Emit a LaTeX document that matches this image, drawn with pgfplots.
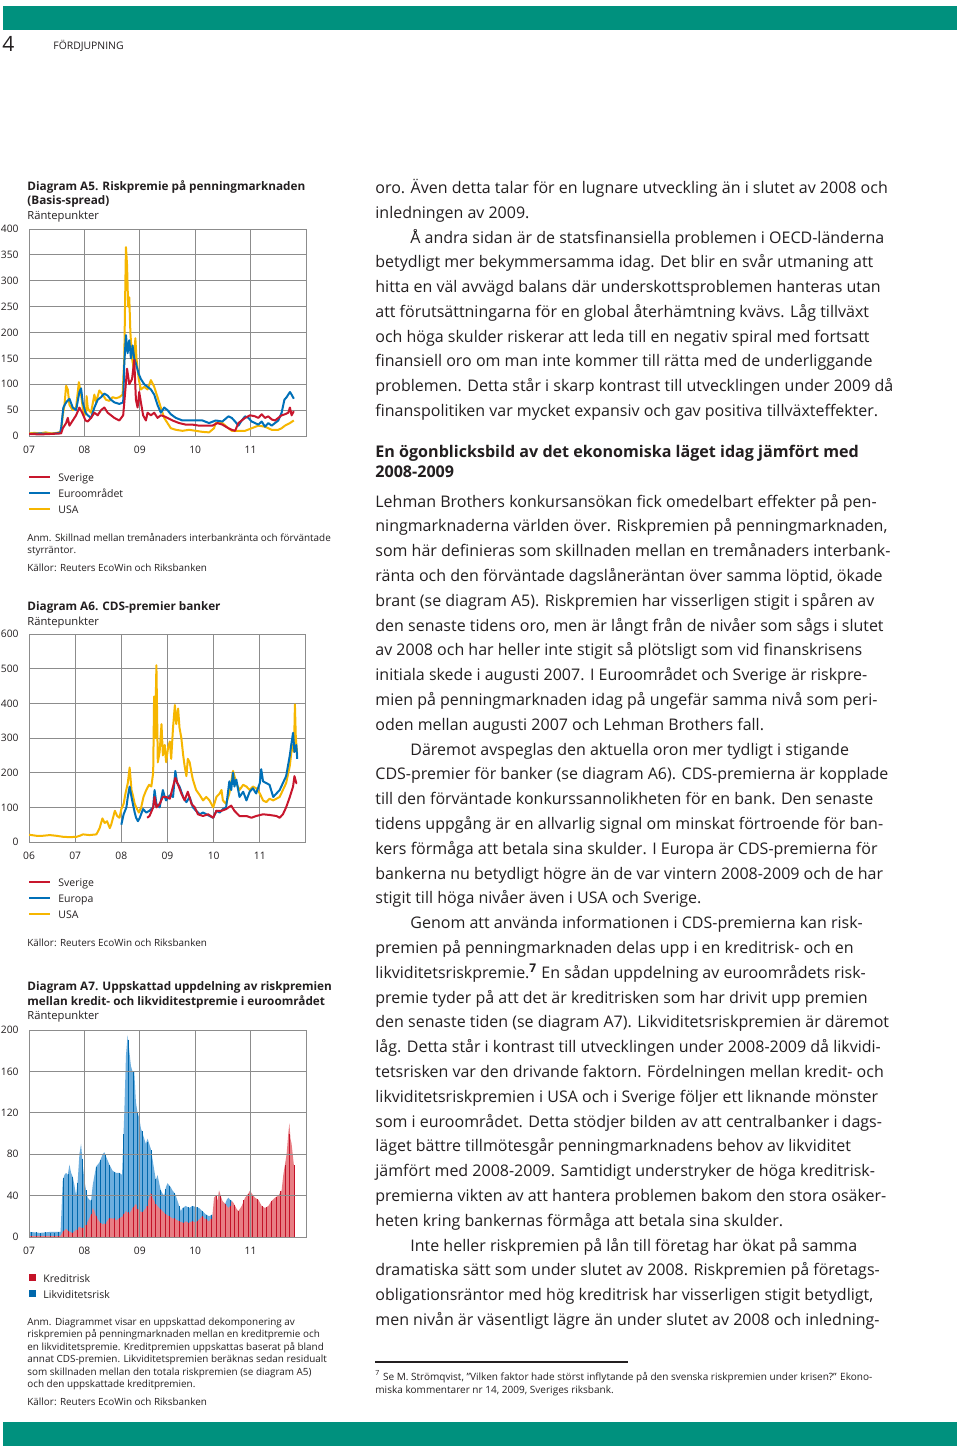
\documentclass[border=0pt]{standalone}
\usepackage{fontspec}
\setmainfont{Open Sans}
\usepackage{pgfplots}
\pgfplotsset{compat=1.18}
\usepackage{pgfplotstable}

\definecolor{rbgreen}{RGB}{0,145,126}
\definecolor{sred}{RGB}{200,22,45}
\definecolor{sblue}{RGB}{0,112,184}
\definecolor{syel}{RGB}{246,182,0}
\definecolor{gridc}{RGB}{140,140,140}
\definecolor{lred}{RGB}{232,126,132}
\definecolor{lblue}{RGB}{108,174,222}
\definecolor{dred}{RGB}{196,18,40}
\definecolor{dblue}{RGB}{0,104,172}
\definecolor{txt}{RGB}{35,31,32}

\newcommand\bodyf{\fontsize{8}{9.6}\selectfont}
\newcommand\headf{\fontsize{8.05}{9.6}\selectfont\bfseries}
\newcommand\titf{\fontsize{5.88}{7}\selectfont\bfseries}
\newcommand\subf{\fontsize{5.6}{6.7}\selectfont}
\newcommand\legf{\fontsize{5.25}{6.2}\selectfont}
\newcommand\notef{\fontsize{4.95}{5.9}\selectfont}
\newcommand\tickf{\fontsize{5.15}{6}\selectfont}
\newcommand\footf{\fontsize{5.02}{6}\selectfont}

\newcommand\al[3][375]{\node[anchor=base west,font=\bodyf] at (#1,{193.5+24.75*#2}) {#3};}
\newcommand\bl[3][375]{\node[anchor=base west,font=\bodyf] at (#1,{507+24.8*#2}) {#3};}
\newcommand\tl[3]{\node[anchor=base west,font=#1] at (27,#2) {#3};}

\pgfplotstableread{
x tot kred
2007.04 5 1
2007.13 5 1
2007.21 4 1
2007.29 5 1
2007.38 4 1
2007.46 4 1
2007.54 5 1
2007.63 57 6
2007.71 61 6
2007.79 58 4
2007.88 52 7
2007.96 75 9
2008.04 45 12
2008.13 36 22
2008.21 68 20
2008.29 74 14
2008.38 79 13
2008.46 70 18
2008.54 63 18
2008.63 62 18
2008.71 100 22
2008.79 190 24
2008.88 160 29
2008.96 120 27
2009.04 102 24
2009.13 92 30
2009.21 84 42
2009.29 56 32
2009.38 45 27
2009.46 46 22
2009.54 49 20
2009.63 43 18
2009.71 30 15
2009.79 28 14
2009.88 29 14
2009.96 30 15
2010.04 29 15
2010.13 25 20
2010.21 21 17
2010.29 21 17
2010.38 40 40
2010.46 40 40
2010.54 32 32
2010.63 36 30
2010.71 31 31
2010.79 25 25
2010.88 36 36
2010.96 42 42
2011.04 41 41
2011.13 37 37
2011.21 30 30
2011.29 29 29
2011.38 35 35
2011.46 39 39
2011.54 44 44
2011.63 70 70
2011.71 100 100
2011.79 70 70
}\stripes

\pgfplotsset{rbaxis/.style={
  scale only axis, width=138.5pt, anchor=south west,
  axis line style={draw=gridc, line width=0.5pt},
  grid=major, major grid style={draw=gridc, line width=0.5pt},
  major tick length=0pt,
  ticklabel style={font=\tickf, inner sep=0pt, text=txt},
  xticklabel style={anchor=north, yshift=-5pt},
  yticklabel style={anchor=east, xshift=-5pt},
  /pgf/number format/assume math mode=true,
  every axis plot/.append style={line join=round},
}}

\begin{document}
\begin{tikzpicture}[x=0.5pt,y=-0.5pt, every node/.style={inner sep=0pt, text=txt}]
\fill[white] (0,0) rectangle (960,1450);
\path[use as bounding box] (0,0) rectangle (960,1450);
% header / footer
\fill[rbgreen] (3,6) rectangle (957,30);
\fill[rbgreen] (3,1422) rectangle (957,1446);
\node[anchor=base west,font=\fontsize{10.5}{12}\selectfont] at (2,52) {4};
\node[anchor=base west,font=\fontsize{5.2}{6}\selectfont] at (53,49.5) {FÖRDJUPNING};

% ---------- A5 ----------
\tl{\titf}{190}{Diagram A5. Riskpremie på penningmarknaden}
\tl{\titf}{204}{(Basis-spread)}
\tl{\subf}{219}{Räntepunkter}
\begin{axis}[rbaxis, at={(14.5pt,-218pt)}, height=103.5pt,
  xmin=2007, xmax=2012, xtick={2007,2008,2009,2010,2011}, xticklabels={07,08,09,10,11},
  ymin=0, ymax=400, ytick={0,50,...,400}]
\addplot[syel, line width=1pt] coordinates {
(2007.00,5) (2007.10,6) (2007.20,5) (2007.30,7) (2007.40,5) (2007.50,6) (2007.56,8)
(2007.58,10) (2007.61,40) (2007.64,60) (2007.67,97) (2007.70,90) (2007.73,60) (2007.76,55) (2007.79,50) (2007.85,55) (2007.90,104) (2007.94,80) (2007.97,55) (2008.00,40) (2008.03,45) (2008.04,77) (2008.06,55) (2008.08,50) (2008.12,45) (2008.18,80) (2008.21,65) (2008.27,88) (2008.33,80) (2008.39,70) (2008.45,68) (2008.51,75) (2008.57,73) (2008.63,75) (2008.69,80) (2008.72,150) (2008.74,300) (2008.75,365) (2008.77,330) (2008.79,250) (2008.81,268) (2008.83,200) (2008.86,150) (2008.89,130) (2008.92,189) (2008.94,150) (2008.98,110) (2009.02,90) (2009.08,95) (2009.14,90) (2009.20,108) (2009.26,95) (2009.32,75) (2009.38,55) (2009.44,35) (2009.50,25) (2009.56,15) (2009.65,12) (2009.77,10) (2009.89,12) (2010.01,10) (2010.13,8) (2010.25,7) (2010.34,15) (2010.37,25) (2010.49,25) (2010.60,15) (2010.66,10) (2010.78,10) (2010.90,10) (2011.02,15) (2011.14,20) (2011.26,18) (2011.38,12) (2011.50,12) (2011.56,15) (2011.62,20) (2011.71,25) (2011.78,30)};
\addplot[sblue, line width=1pt] coordinates {
(2007.00,4) (2007.20,5) (2007.40,4) (2007.56,6) (2007.58,15) (2007.62,55) (2007.67,65) (2007.73,72) (2007.79,55) (2007.85,50) (2007.91,85) (2007.94,92) (2007.97,65) (2008.02,45) (2008.06,40) (2008.12,35) (2008.18,55) (2008.24,70) (2008.30,75) (2008.36,82) (2008.42,78) (2008.48,70) (2008.54,65) (2008.63,62) (2008.70,65) (2008.72,140) (2008.75,195) (2008.78,160) (2008.81,185) (2008.84,150) (2008.87,175) (2008.90,150) (2008.93,140) (2008.98,120) (2009.02,110) (2009.08,100) (2009.14,95) (2009.20,90) (2009.26,80) (2009.32,60) (2009.38,45) (2009.44,55) (2009.50,50) (2009.56,42) (2009.65,35) (2009.77,30) (2009.89,30) (2010.01,30) (2010.13,30) (2010.25,25) (2010.37,30) (2010.49,28) (2010.60,38) (2010.66,35) (2010.72,28) (2010.78,20) (2010.84,30) (2010.90,38) (2010.96,35) (2011.02,28) (2011.08,25) (2011.14,22) (2011.20,28) (2011.26,18) (2011.32,25) (2011.38,20) (2011.44,25) (2011.50,30) (2011.56,45) (2011.61,70) (2011.65,75) (2011.71,85) (2011.74,80) (2011.78,72)};
\addplot[sred, line width=1pt] coordinates {
(2007.00,4) (2007.20,3) (2007.40,4) (2007.58,5) (2007.61,15) (2007.67,25) (2007.70,35) (2007.73,20) (2007.79,30) (2007.85,40) (2007.91,55) (2007.96,45) (2008.02,30) (2008.06,28) (2008.12,35) (2008.18,45) (2008.24,40) (2008.30,50) (2008.36,55) (2008.42,45) (2008.48,40) (2008.54,35) (2008.63,30) (2008.70,40) (2008.74,90) (2008.77,130) (2008.81,100) (2008.86,110) (2008.90,147) (2008.93,70) (2008.96,55) (2008.99,85) (2009.02,65) (2009.06,40) (2009.11,30) (2009.14,45) (2009.20,40) (2009.26,45) (2009.32,35) (2009.38,40) (2009.44,38) (2009.50,35) (2009.59,30) (2009.71,25) (2009.83,22) (2009.95,22) (2010.07,20) (2010.19,20) (2010.31,20) (2010.40,25) (2010.49,22) (2010.60,15) (2010.66,12) (2010.72,10) (2010.78,25) (2010.90,35) (2010.99,40) (2011.08,38) (2011.14,35) (2011.20,42) (2011.26,35) (2011.32,38) (2011.38,32) (2011.44,30) (2011.50,35) (2011.56,40) (2011.62,42) (2011.68,45) (2011.71,55) (2011.74,40) (2011.78,48)};
\end{axis}
\draw[sred, line width=1pt] (29,477) -- (50,477);
\draw[sblue, line width=1pt] (29,493) -- (50,493);
\draw[syel, line width=1pt] (29,509) -- (50,509);
\node[anchor=base west,font=\legf] at (58,481) {Sverige};
\node[anchor=base west,font=\legf] at (58,497) {Euroområdet};
\node[anchor=base west,font=\legf] at (58,513) {USA};
\tl{\notef}{541.5}{Anm. Skillnad mellan tremånaders interbankränta och förväntade}
\tl{\notef}{553.5}{styrräntor.}
\tl{\notef}{571.5}{Källor: Reuters EcoWin och Riksbanken}

% ---------- A6 ----------
\tl{\titf}{610}{Diagram A6. CDS-premier banker}
\tl{\subf}{625}{Räntepunkter}
\begin{axis}[rbaxis, at={(14.5pt,-421pt)}, height=104pt,
  xmin=2006, xmax=2012, xtick={2006,2007,2008,2009,2010,2011}, xticklabels={06,07,08,09,10,11},
  ymin=0, ymax=600, ytick={0,100,...,600}]
\addplot[syel, line width=1pt] coordinates {
(2006.00,21) (2006.16,18) (2006.30,18) (2006.45,20) (2006.59,18) (2006.74,15) (2006.88,14) (2007.03,15) (2007.10,18) (2007.17,22) (2007.31,20) (2007.46,22) (2007.53,40) (2007.59,68) (2007.64,55) (2007.69,60) (2007.75,40) (2007.78,50) (2007.86,90) (2007.91,75) (2007.96,70) (2008.00,95) (2008.05,110) (2008.09,140) (2008.14,170) (2008.18,215) (2008.22,150) (2008.25,135) (2008.29,110) (2008.34,95) (2008.38,85) (2008.43,100) (2008.48,130) (2008.54,150) (2008.60,165) (2008.65,160) (2008.69,200) (2008.71,420) (2008.73,300) (2008.76,510) (2008.79,230) (2008.83,260) (2008.87,340) (2008.90,250) (2008.94,280) (2008.97,230) (2009.01,270) (2009.05,290) (2009.08,240) (2009.12,330) (2009.16,395) (2009.19,340) (2009.23,385) (2009.26,330) (2009.30,300) (2009.34,250) (2009.37,220) (2009.41,190) (2009.44,240) (2009.48,230) (2009.52,200) (2009.55,180) (2009.62,150) (2009.70,135) (2009.77,120) (2009.84,130) (2009.91,120) (2009.99,100) (2010.06,130) (2010.13,140) (2010.17,150) (2010.20,120) (2010.27,110) (2010.34,140) (2010.42,205) (2010.45,190) (2010.49,170) (2010.56,150) (2010.64,165) (2010.71,160) (2010.78,150) (2010.85,160) (2010.92,155) (2011.00,140) (2011.07,120) (2011.14,115) (2011.21,125) (2011.29,120) (2011.36,125) (2011.43,130) (2011.50,150) (2011.57,170) (2011.65,220) (2011.70,280) (2011.74,260) (2011.76,397) (2011.78,300) (2011.81,250)};
\addplot[sblue, line width=1pt] coordinates {
(2008.00,50) (2008.05,80) (2008.11,100) (2008.14,130) (2008.18,160) (2008.22,130) (2008.25,110) (2008.29,85) (2008.32,70) (2008.36,60) (2008.40,70) (2008.47,95) (2008.54,85) (2008.61,90) (2008.69,100) (2008.72,150) (2008.76,110) (2008.83,100) (2008.90,150) (2008.94,130) (2008.97,120) (2009.05,135) (2009.12,130) (2009.17,205) (2009.21,170) (2009.26,160) (2009.34,130) (2009.41,115) (2009.48,130) (2009.55,100) (2009.62,90) (2009.70,80) (2009.77,85) (2009.84,80) (2009.91,75) (2009.99,70) (2010.06,90) (2010.13,85) (2010.20,95) (2010.27,100) (2010.34,175) (2010.38,150) (2010.42,200) (2010.45,160) (2010.49,180) (2010.56,130) (2010.64,145) (2010.71,120) (2010.78,145) (2010.85,155) (2010.92,140) (2011.00,170) (2011.03,210) (2011.07,175) (2011.14,170) (2011.21,165) (2011.29,130) (2011.36,140) (2011.43,150) (2011.50,170) (2011.57,190) (2011.65,250) (2011.68,280) (2011.72,315) (2011.75,260) (2011.79,280) (2011.81,240)};
\addplot[sred, line width=1pt] coordinates {
(2008.56,70) (2008.61,75) (2008.69,100) (2008.72,130) (2008.76,100) (2008.83,110) (2008.90,130) (2008.97,130) (2009.05,125) (2009.12,160) (2009.17,185) (2009.23,165) (2009.30,140) (2009.37,120) (2009.44,145) (2009.52,110) (2009.59,100) (2009.66,80) (2009.77,75) (2009.88,80) (2009.99,70) (2010.06,90) (2010.17,90) (2010.27,95) (2010.38,105) (2010.45,90) (2010.56,75) (2010.71,75) (2010.82,70) (2010.92,75) (2011.07,80) (2011.21,78) (2011.36,75) (2011.43,70) (2011.50,80) (2011.57,100) (2011.65,130) (2011.72,160) (2011.75,190) (2011.79,170) (2011.81,170)};
\end{axis}
\draw[sred, line width=1pt] (29,882) -- (50,882);
\draw[sblue, line width=1pt] (29,898) -- (50,898);
\draw[syel, line width=1pt] (29,914) -- (50,914);
\node[anchor=base west,font=\legf] at (58,886) {Sverige};
\node[anchor=base west,font=\legf] at (58,902) {Europa};
\node[anchor=base west,font=\legf] at (58,918) {USA};
\tl{\notef}{946.5}{Källor: Reuters EcoWin och Riksbanken}

% ---------- A7 ----------
\tl{\titf}{990}{Diagram A7. Uppskattad uppdelning av riskpremien}
\tl{\titf}{1005}{mellan kredit- och likviditestpremie i euroområdet}
\tl{\subf}{1019}{Räntepunkter}
\begin{axis}[rbaxis, at={(14.5pt,-618.5pt)}, height=103.5pt,
  xmin=2007, xmax=2012, xtick={2007,2008,2009,2010,2011}, xticklabels={07,08,09,10,11},
  ymin=0, ymax=200, ytick={0,40,...,200}, axis on top]
\addplot[fill=lblue, draw=none] coordinates {
(2007.00,5) (2007.20,4) (2007.40,5) (2007.57,5) (2007.61,55) (2007.64,60) (2007.67,62) (2007.70,60) (2007.73,70) (2007.76,62) (2007.79,58) (2007.82,50) (2007.85,40) (2007.88,55) (2007.91,80) (2007.94,90) (2007.97,70) (2008.00,55) (2008.03,45) (2008.06,38) (2008.09,36) (2008.12,35) (2008.15,50) (2008.21,68) (2008.27,72) (2008.33,80) (2008.36,82) (2008.39,78) (2008.45,70) (2008.51,64) (2008.57,62) (2008.63,62) (2008.68,60) (2008.72,120) (2008.75,175) (2008.78,195) (2008.81,180) (2008.84,165) (2008.87,160) (2008.90,160) (2008.93,130) (2008.96,120) (2008.99,115) (2009.02,105) (2009.05,100) (2009.08,95) (2009.11,90) (2009.14,95) (2009.17,90) (2009.20,85) (2009.23,75) (2009.26,65) (2009.29,55) (2009.32,60) (2009.35,52) (2009.38,45) (2009.41,42) (2009.44,40) (2009.47,48) (2009.50,52) (2009.53,50) (2009.56,48) (2009.59,45) (2009.62,43) (2009.65,40) (2009.71,30) (2009.74,25) (2009.77,28) (2009.83,30) (2009.89,28) (2009.95,30) (2010.01,29) (2010.07,28) (2010.13,25) (2010.19,22) (2010.25,20) (2010.31,22) (2010.32,0) (2010.53,0) (2010.54,32) (2010.57,36) (2010.60,38) (2010.63,36) (2010.66,35) (2010.67,0) (2011.80,0)} \closedcycle;
\addplot[fill=lred, draw=none] coordinates {
(2007.00,1) (2007.57,1) (2007.61,5) (2007.67,8) (2007.73,5) (2007.79,4) (2007.85,7) (2007.91,10) (2007.97,8) (2008.03,12) (2008.09,18) (2008.12,22) (2008.15,28) (2008.18,25) (2008.21,20) (2008.27,15) (2008.33,12) (2008.39,14) (2008.45,18) (2008.51,18) (2008.57,16) (2008.63,18) (2008.69,20) (2008.75,25) (2008.81,22) (2008.87,28) (2008.93,32) (2008.99,25) (2009.05,24) (2009.11,28) (2009.17,38) (2009.20,43) (2009.23,38) (2009.29,32) (2009.35,28) (2009.41,25) (2009.47,22) (2009.53,20) (2009.59,18) (2009.65,17) (2009.71,15) (2009.77,14) (2009.83,15) (2009.89,14) (2009.95,15) (2010.01,14) (2010.07,17) (2010.13,20) (2010.19,17) (2010.25,15) (2010.31,20) (2010.34,38) (2010.37,40) (2010.40,35) (2010.43,45) (2010.46,40) (2010.49,35) (2010.54,32) (2010.60,28) (2010.63,30) (2010.66,35) (2010.69,33) (2010.72,30) (2010.75,27) (2010.78,25) (2010.84,30) (2010.90,38) (2010.96,42) (2010.99,45) (2011.02,42) (2011.08,38) (2011.14,36) (2011.20,30) (2011.26,28) (2011.32,30) (2011.38,35) (2011.44,38) (2011.50,40) (2011.56,45) (2011.59,60) (2011.62,70) (2011.65,80) (2011.68,100) (2011.70,110) (2011.72,95) (2011.74,90) (2011.77,75) (2011.78,70) (2011.79,0)} \closedcycle;
\addplot[ycomb, dblue, line width=0.5pt] table[x=x, y=tot] {\stripes};
\addplot[ycomb, dred, line width=0.5pt] table[x=x, y=kred] {\stripes};
\end{axis}
\fill[dred] (29,1274) rectangle (36,1281);
\fill[dblue] (29,1290) rectangle (36,1297);
\node[anchor=base west,font=\legf] at (43,1282) {Kreditrisk};
\node[anchor=base west,font=\legf] at (43,1298) {Likviditetsrisk};
\tl{\notef}{1325.5}{Anm. Diagrammet visar en uppskattad dekomponering av}
\tl{\notef}{1337.5}{riskpremien på penningmarknaden mellan en kreditpremie och}
\tl{\notef}{1350.5}{en likviditetspremie. Kreditpremien uppskattas baserat på bland}
\tl{\notef}{1362.5}{annat CDS-premien. Likviditetspremien beräknas sedan residualt}
\tl{\notef}{1375.5}{som skillnaden mellan den totala riskpremien (se diagram A5)}
\tl{\notef}{1387.5}{och den uppskattade kreditpremien.}
\tl{\notef}{1405.5}{Källor: Reuters EcoWin och Riksbanken}

% ---------- body text ----------
\al{0}{oro. Även detta talar för en lugnare utveckling än i slutet av 2008 och}
\al{1}{inledningen av 2009.}
\al[410]{2}{Å andra sidan är de statsfinansiella problemen i OECD-länderna}
\al{3}{betydligt mer bekymmersamma idag. Det blir en svår utmaning att}
\al{4}{hitta en väl avvägd balans där underskottsproblemen hanteras utan}
\al{5}{att förutsättningarna för en global återhämtning kvävs. Låg tillväxt}
\al{6}{och höga skulder riskerar att leda till en negativ spiral med fortsatt}
\al{7}{finansiell oro om man inte kommer till rätta med de underliggande}
\al{8}{problemen. Detta står i skarp kontrast till utvecklingen under 2009 då}
\al{9}{finanspolitiken var mycket expansiv och gav positiva tillväxteffekter.}

\node[anchor=base west,font=\headf] at (375,457) {En ögonblicksbild av det ekonomiska läget idag jämfört med};
\node[anchor=base west,font=\headf] at (375,477) {2008-2009};

\bl{0}{Lehman Brothers konkursansökan fick omedelbart effekter på pen-}
\bl{1}{ningmarknaderna världen över. Riskpremien på penningmarknaden,}
\bl{2}{som här definieras som skillnaden mellan en tremånaders interbank-}
\bl{3}{ränta och den förväntade dagslåneräntan över samma löptid, ökade}
\bl{4}{brant (se diagram A5). Riskpremien har visserligen stigit i spåren av}
\bl{5}{den senaste tidens oro, men är långt från de nivåer som sågs i slutet}
\bl{6}{av 2008 och har heller inte stigit så plötsligt som vid finanskrisens}
\bl{7}{initiala skede i augusti 2007. I Euroområdet och Sverige är riskpre-}
\bl{8}{mien på penningmarknaden idag på ungefär samma nivå som peri-}
\bl{9}{oden mellan augusti 2007 och Lehman Brothers fall.}
\bl[410]{10}{Däremot avspeglas den aktuella oron mer tydligt i stigande}
\bl{11}{CDS-premier för banker (se diagram A6). CDS-premierna är kopplade}
\bl{12}{till den förväntade konkurssannolikheten för en bank. Den senaste}
\bl{13}{tidens uppgång är en allvarlig signal om minskat förtroende för ban-}
\bl{14}{kers förmåga att betala sina skulder. I Europa är CDS-premierna för}
\bl{15}{bankerna nu betydligt högre än de var vintern 2008-2009 och de har}
\bl{16}{stigit till höga nivåer även i USA och Sverige.}
\bl[410]{17}{Genom att använda informationen i CDS-premierna kan risk-}
\bl{18}{premien på penningmarknaden delas upp i en kreditrisk- och en}
\bl{19}{likviditetsriskpremie.\textsuperscript{\textbf{7}} En sådan uppdelning av euroområdets risk-}
\bl{20}{premie tyder på att det är kreditrisken som har drivit upp premien}
\bl{21}{den senaste tiden (se diagram A7). Likviditetsriskpremien är däremot}
\bl{22}{låg. Detta står i kontrast till utvecklingen under 2008-2009 då likvidi-}
\bl{23}{tetsrisken var den drivande faktorn. Fördelningen mellan kredit- och}
\bl{24}{likviditetsriskpremien i USA och i Sverige följer ett liknande mönster}
\bl{25}{som i euroområdet. Detta stödjer bilden av att centralbanker i dags-}
\bl{26}{läget bättre tillmötesgår penningmarknadens behov av likviditet}
\bl{27}{jämfört med 2008-2009. Samtidigt understryker de höga kreditrisk-}
\bl{28}{premierna vikten av att hantera problemen bakom den stora osäker-}
\bl{29}{heten kring bankernas förmåga att betala sina skulder.}
\bl[410]{30}{Inte heller riskpremien på lån till företag har ökat på samma}
\bl{31}{dramatiska sätt som under slutet av 2008. Riskpremien på företags-}
\bl{32}{obligationsräntor med hög kreditrisk har visserligen stigit betydligt,}
\bl{33}{men nivån är väsentligt lägre än under slutet av 2008 och inledning-}

% footnote
\draw[txt, line width=0.6pt] (375,1362) -- (628,1362);
\node[anchor=base west,font=\footf] at (375,1380) {\textsuperscript{7} Se M. Strömqvist, ”Vilken faktor hade störst inflytande på den svenska riskpremien under krisen?” Ekono-};
\node[anchor=base west,font=\footf] at (375,1393) {miska kommentarer nr 14, 2009, Sveriges riksbank.};
\end{tikzpicture}
\end{document}
